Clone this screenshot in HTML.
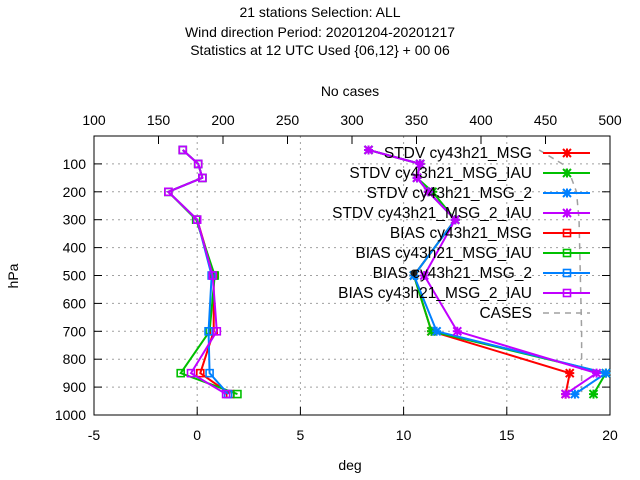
<!DOCTYPE html>
<html><head><meta charset="utf-8"><style>
body{margin:0;background:#fff}
svg{display:block;font-family:"Liberation Sans",sans-serif;font-size:14px}
</style></head><body>
<svg id="chart" width="640" height="480" viewBox="0 0 640 480">
<g id="titles" style="white-space:pre">
<text x="320" y="17" text-anchor="middle">21 stations Selection: ALL</text>
<text x="320" y="37" text-anchor="middle">Wind direction  Period: 20201204-20201217</text>
<text x="320" y="55" text-anchor="middle">Statistics at 12 UTC  Used {06,12} + 00 06</text>
</g>
<text x="350" y="96" text-anchor="middle">No cases</text>
<text x="350" y="470" text-anchor="middle">deg</text>
<text x="18" y="276" text-anchor="middle" transform="rotate(-90 18 276)">hPa</text>
<g id="grid"></g>
<g id="axes"></g>
<g id="series"></g>
<g id="legend"></g>
</svg>
<script>
const levels=[50,100,150,200,300,500,700,850,925];
const stdvMsg=[8.3,10.8,10.65,11.2,12.5,10.5,11.35,18.05,17.85];
const stdvMsgIau=[8.3,10.8,10.65,11.4,12.5,10.5,11.35,19.8,19.2];
const stdvMsg2=[8.3,10.8,10.65,11.2,12.5,10.5,11.6,19.8,18.3];
const stdvMsg2Iau=[8.3,10.8,10.65,11.2,12.5,11.0,12.6,19.35,17.85];
const biasMsg=[-0.7,0.05,0.25,-1.4,0,0.8,0.8,0.15,1.6];
const biasMsgIau=[-0.7,0.05,0.25,-1.4,-0.05,0.85,0.6,-0.8,1.95];
const biasMsg2=[-0.7,0.05,0.25,-1.4,0,0.7,0.55,0.6,1.5];
const biasMsg2Iau=[-0.7,0.05,0.25,-1.4,0,0.75,0.95,-0.3,1.4];
const cases=[445,463,470,474,476,477,478,478,478];
const xTicks=[-5,0,5,10,15,20];
const topTicks=[100,150,200,250,300,350,400,450,500];
const yTicks=[100,200,300,400,500,600,700,800,900,1000];
const names=["STDV cy43h21_MSG","STDV cy43h21_MSG_IAU","STDV cy43h21_MSG_2","STDV cy43h21_MSG_2_IAU","BIAS cy43h21_MSG","BIAS cy43h21_MSG_IAU","BIAS cy43h21_MSG_2","BIAS cy43h21_MSG_2_IAU"];

const L=94,R=610,T=136,B=415;
const X=v=>L+(v+5)/25*(R-L);
const XC=v=>L+(v-100)/400*(R-L);
const Y=p=>T+p/1000*(B-T);
const NS="http://www.w3.org/2000/svg";
function mk(tag,at,parent){const e=document.createElementNS(NS,tag);for(const k in at)e.setAttribute(k,at[k]);parent.appendChild(e);return e;}
const grid=document.getElementById('grid'),axes=document.getElementById('axes'),ser=document.getElementById('series'),leg=document.getElementById('legend');

for(const t of yTicks){const y=Y(t);
 if(t<1000){const g=mk('line',{x1:L,x2:R,y1:y,y2:y,stroke:'#a0a0a0','stroke-dasharray':'2,4'},grid);}
 mk('line',{x1:L,x2:L+8,y1:y,y2:y,stroke:'#000'},axes);mk('line',{x1:R,x2:R-8,y1:y,y2:y,stroke:'#000'},axes);
 const tx=mk('text',{x:L-8,y:y+5,'text-anchor':'end'},axes);tx.textContent=t;
 }
for(const t of xTicks){const x=X(t);
 if(t>-5&&t<20){const g=mk('line',{x1:x,x2:x,y1:T,y2:B,stroke:'#a0a0a0','stroke-dasharray':'2,4'},grid);}
 mk('line',{x1:x,x2:x,y1:B,y2:B-8,stroke:'#000'},axes);
 const tx=mk('text',{x:x,y:B+25,'text-anchor':'middle'},axes);tx.textContent=t;
 }
for(const t of topTicks){const x=XC(t);
 mk('line',{x1:x,x2:x,y1:T,y2:T+8,stroke:'#000'},axes);
 const tx=mk('text',{x:x,y:T-11,'text-anchor':'middle'},axes);tx.textContent=t;
 }
mk('rect',{x:L,y:T,width:R-L,height:B-T,fill:'none',stroke:'#000'},axes);

const colors=['#ff0000','#00c000','#0080ff','#c000ff'];
function star(x,y,c,p){mk('path',{d:`M${x-4} ${y-4}L${x+4} ${y+4}M${x-4} ${y+4}L${x+4} ${y-4}M${x-4.5} ${y}H${x+4.5}M${x} ${y-4.5}V${y+4.5}`,stroke:c,'stroke-width':2,fill:'none'},p);}
function sq(x,y,c,p){mk('rect',{x:x-3.5,y:y-3.5,width:7,height:7,stroke:c,'stroke-width':1.6,fill:'none'},p);}

const cpts=levels.map((p,i)=>XC(cases[i])+','+Y(p)).join(' ');
const cl=mk('polyline',{points:cpts,fill:'none',stroke:'#a0a0a0','stroke-width':1.5,'stroke-dasharray':'6,5'},ser);


const all=[stdvMsg,stdvMsgIau,stdvMsg2,stdvMsg2Iau,biasMsg,biasMsgIau,biasMsg2,biasMsg2Iau];
all.forEach((arr,k)=>{const c=colors[k%4];
 const g=mk('g',{},ser);
 
 
 mk('polyline',{points:levels.map((p,i)=>X(arr[i])+','+Y(p)).join(' '),fill:'none',stroke:c,'stroke-width':2},g);
 levels.forEach((p,i)=>k<4?star(X(arr[i]),Y(p),c,g):sq(X(arr[i]),Y(p),c,g));
});
mk('circle',{cx:414,cy:273,r:3.5,fill:'#222'},ser);

names.concat(['CASES']).forEach((n,i)=>{const y=153+i*20;
 const g=mk('g',{},leg);
 
 
 const t=mk('text',{x:532,y:y+5,'text-anchor':'end','font-size':'15.5px'},g);t.textContent=n;
 if(i<8){const c=colors[i%4];mk('line',{x1:543,x2:590,y1:y,y2:y,stroke:c,'stroke-width':2},g);i<4?star(567,y,c,g):sq(567,y,c,g);}
 else mk('line',{x1:543,x2:590,y1:y,y2:y,stroke:'#a0a0a0','stroke-width':1.5,'stroke-dasharray':'6,5'},g);
});
</script>
</body></html>
